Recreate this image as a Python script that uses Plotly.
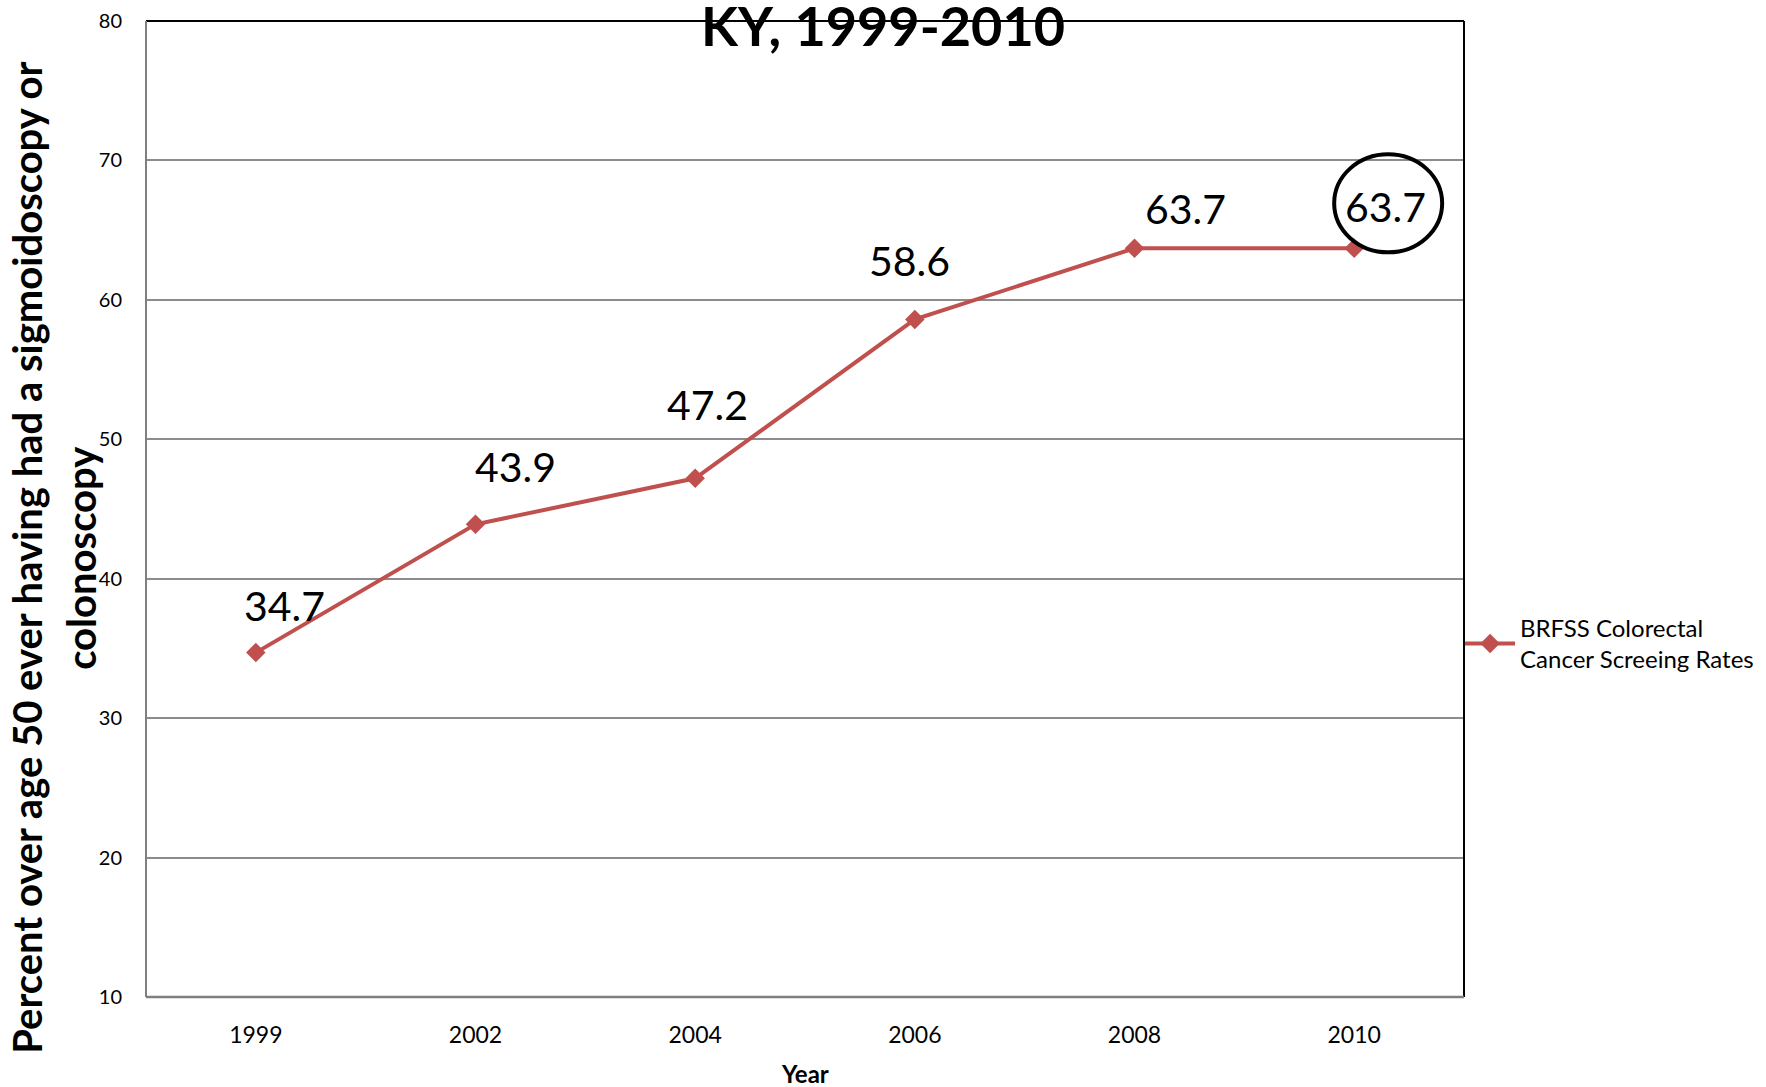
import plotly.graph_objects as go

years = ["1999", "2002", "2004", "2006", "2008", "2010"]
rates = [34.7, 43.9, 47.2, 58.6, 63.7, 63.7]
label_dx = [29, 40, 12, -5, 51, 31]
label_dy = [47, 58, 74, 59, 40, 42]
y_ticks = [10, 20, 30, 40, 50, 60, 70, 80]

series_name = "BRFSS Colorectal<br>Cancer Screeing Rates"
title_text = "KY, 1999-2010"
ytitle_1 = "Percent over age 50 ever having had a sigmoidoscopy or"
ytitle_2 = "colonoscopy"
xtitle = "Year"

RED = "#C0504D"
FONT = "Lato"

W, H = 1766, 1087
L, R, T, B = 146, 302, 21, 90

xpos = list(range(len(years)))

fig = go.Figure()
fig.add_trace(go.Scatter(
    x=xpos, y=rates, mode="lines+markers", name=series_name,
    line=dict(color=RED, width=4),
    marker=dict(symbol="diamond", size=15, color=RED),
))

annotations = []
for x, v, dx, dy in zip(xpos, rates, label_dx, label_dy):
    annotations.append(dict(
        x=x, y=v, xref="x", yref="y", text=f"{v}", showarrow=False,
        xshift=dx, yshift=dy, font=dict(family=FONT, size=41, color="black"),
    ))

# y-axis title (two lines)
annotations.append(dict(
    x=0, y=0.45, xref="paper", yref="paper", text=f"<b>{ytitle_1}</b>",
    showarrow=False, textangle=-90, xanchor="center", yanchor="middle",
    xshift=-119, font=dict(family=FONT, size=40, color="black"),
))
annotations.append(dict(
    x=0, y=0.45, xref="paper", yref="paper", text=f"<b>{ytitle_2}</b>",
    showarrow=False, textangle=-90, xanchor="center", yanchor="middle",
    xshift=-65, font=dict(family=FONT, size=40, color="black"),
))
# x-axis title
annotations.append(dict(
    x=0.5, y=0, xref="paper", yref="paper", text=f"<b>{xtitle}</b>",
    showarrow=False, xanchor="center", yanchor="middle", yshift=-76,
    font=dict(family=FONT, size=24, color="black"),
))

shapes = [
    dict(type="line", xref="paper", yref="paper", x0=0, x1=1, y0=1, y1=1,
         line=dict(color="black", width=2), layer="above"),
    dict(type="line", xref="paper", yref="paper", x0=1, x1=1, y0=0, y1=1,
         line=dict(color="black", width=2), layer="above"),
    dict(type="line", xref="paper", yref="paper", x0=0, x1=0, y0=0, y1=1,
         line=dict(color="#7F7F7F", width=2), layer="above"),
    dict(type="line", xref="paper", yref="paper", x0=0, x1=1, y0=0, y1=0,
         line=dict(color="#7F7F7F", width=2.5), layer="above"),
    # circle around last label
    dict(type="circle", xref="x", yref="y", xsizemode="pixel", ysizemode="pixel",
         xanchor=xpos[-1], yanchor=rates[-1], x0=-20, x1=88, y0=-4, y1=94,
         line=dict(color="black", width=4), layer="above"),
]

fig.update_layout(
    width=W, height=H,
    margin=dict(l=L, r=R, t=T, b=B, autoexpand=False),
    paper_bgcolor="white", plot_bgcolor="white",
    font=dict(family=FONT, color="black"),
    title=dict(text=f"<b>{title_text}</b>", x=0.5, xref="container", xanchor="center",
               y=1 - 27 / H, yref="container", yanchor="middle",
               font=dict(family=FONT, size=54, color="black")),
    xaxis=dict(range=[-0.5, 5.5], tickvals=xpos, ticktext=years, showgrid=False,
               zeroline=False, showline=False, ticks="", ticklabelstandoff=22,
               tickfont=dict(family=FONT, size=23, color="black")),
    yaxis=dict(range=[10, 80], tickvals=y_ticks, showgrid=True, gridcolor="#8C8C8C",
               gridwidth=1.5, zeroline=False, showline=False, ticks="",
               ticklabelstandoff=23,
               tickfont=dict(family=FONT, size=20, color="black")),
    legend=dict(x=0.997, xanchor="left", y=0.362, yanchor="middle",
                font=dict(family=FONT, size=24, color="black"),
                bgcolor="rgba(0,0,0,0)", itemwidth=50),
    showlegend=True,
    annotations=annotations,
    shapes=shapes,
)

fig.write_html("out.html", config={"displayModeBar": False},
               post_script="document.body.style.margin='0';")
